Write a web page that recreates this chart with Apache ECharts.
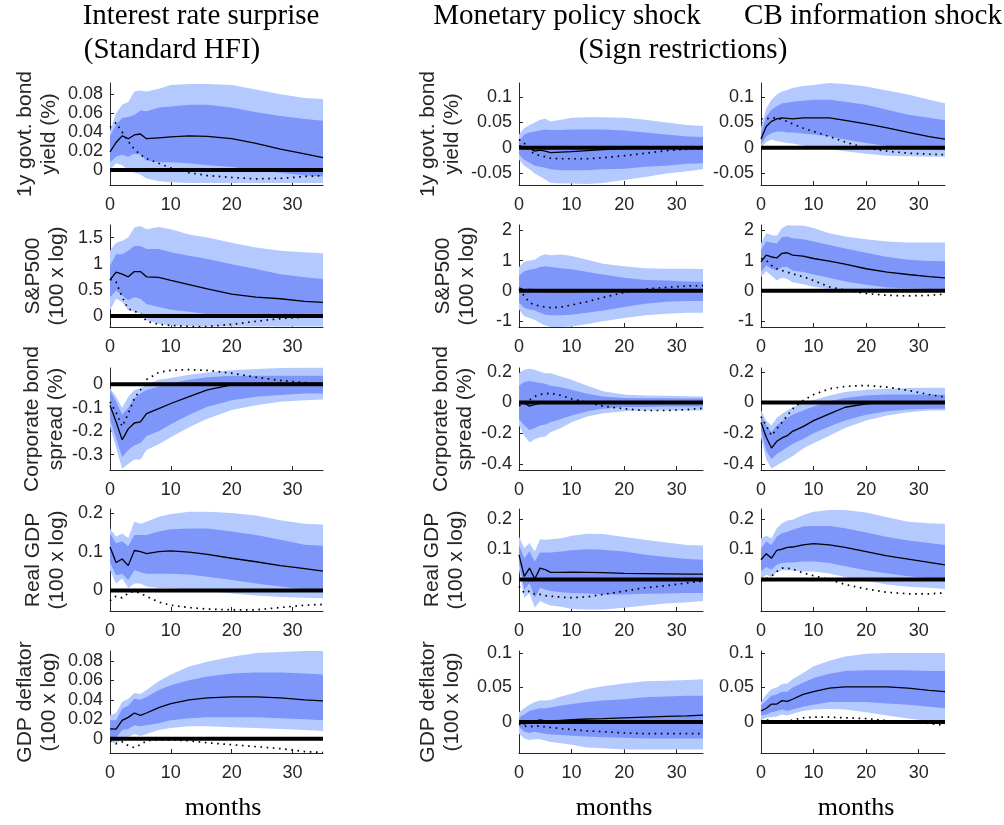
<!DOCTYPE html>
<html><head><meta charset="utf-8">
<script src="https://cdn.jsdelivr.net/npm/echarts@6/dist/echarts.min.js"></script>
<style>html,body{margin:0;padding:0;background:#fff}#c{width:1004px;height:825px}</style>
</head><body><div id="c"></div>
<script>
// ---- months at which values were read ----
const months = [0,1,2,3,4,5,6,8,10,13,16,20,24,28,32,35];
const xTicks = [0,10,20,30];

// ---- titles / labels ----
const colTitles = ['Interest rate surprise','Monetary policy shock','CB information shock'];
const subTitles = ['(Standard HFI)','(Sign restrictions)'];
const rowLabels = ['1y govt. bond\nyield (%)','S&P500\n(100 x log)','Corporate bond\nspread (%)','Real GDP\n(100 x log)','GDP deflator\n(100 x log)'];
const xLabel = 'months';

// ---- y ranges and ticks (col 1 ; cols 2-3 shared) ----
const yRangeC1 = [[-0.016,0.092],[-0.21,1.74],[-0.365,0.069],[-0.053,0.21],[-0.0145,0.09]];
const yRangeC23 = [[-0.074,0.128],[-1.2,2.18],[-0.44,0.225],[-0.104,0.234],[-0.045,0.103]];
const yTicksC1 = [[0,0.02,0.04,0.06,0.08],[0,0.5,1,1.5],[-0.3,-0.2,-0.1,0],[0,0.1,0.2],[0,0.02,0.04,0.06,0.08]];
const yTicksC23 = [[-0.05,0,0.05,0.1],[-1,0,1,2],[-0.4,-0.2,0,0.2],[0,0.1,0.2],[0,0.05,0.1]];

// ===== Row 1: 1y govt bond yield =====
const yield_irs_mid = [0.019,0.029,0.036,0.033,0.037,0.038,0.033,0.034,0.035,0.036,0.0355,0.033,0.028,0.022,0.017,0.013];
const yield_irs_dot = [0.045,0.05,0.04,0.03,0.022,0.016,0.012,0.007,0.002,-0.003,-0.006,-0.008,-0.0095,-0.009,-0.007,-0.006];
const yield_irs_inHi = [0.036,0.048,0.055,0.056,0.058,0.063,0.062,0.066,0.067,0.069,0.069,0.066,0.061,0.057,0.054,0.052];
const yield_irs_inLo = [0.008,0.014,0.016,0.014,0.017,0.016,0.01,0.008,0.008,0.007,0.005,0.003,0.0,-0.003,-0.006,-0.007];
const yield_irs_outHi = [0.041,0.06,0.069,0.072,0.083,0.084,0.083,0.086,0.09,0.091,0.091,0.09,0.085,0.08,0.076,0.075];
const yield_irs_outLo = [0.0,0.007,0.005,0.0,-0.003,-0.005,-0.009,-0.012,-0.013,-0.014,-0.014,-0.014,-0.014,-0.014,-0.014,-0.014];

const yield_mp_mid = [0.004,0.001,-0.001,-0.007,-0.005,-0.007,-0.01,-0.009,-0.008,-0.006,-0.004,-0.002,-0.0015,-0.001,-0.001,-0.001];
const yield_mp_dot = [0.016,0.009,-0.007,-0.012,-0.016,-0.018,-0.021,-0.022,-0.022,-0.022,-0.02,-0.016,-0.011,-0.006,-0.003,-0.002];
const yield_mp_inHi = [0.0125,0.026,0.03,0.032,0.034,0.036,0.035,0.035,0.036,0.036,0.036,0.034,0.03,0.026,0.022,0.021];
const yield_mp_inLo = [-0.014,-0.024,-0.03,-0.036,-0.038,-0.04,-0.043,-0.045,-0.045,-0.045,-0.043,-0.042,-0.038,-0.036,-0.032,-0.031];
const yield_mp_outHi = [0.026,0.039,0.045,0.05,0.055,0.057,0.052,0.055,0.059,0.06,0.06,0.059,0.055,0.05,0.045,0.043];
const yield_mp_outLo = [-0.024,-0.036,-0.043,-0.051,-0.057,-0.063,-0.07,-0.071,-0.071,-0.072,-0.07,-0.064,-0.058,-0.051,-0.047,-0.043];

const yield_cbi_mid = [0.017,0.042,0.052,0.057,0.059,0.058,0.057,0.059,0.059,0.059,0.054,0.047,0.039,0.03,0.022,0.017];
const yield_cbi_dot = [0.057,0.057,0.059,0.059,0.055,0.052,0.047,0.039,0.032,0.022,0.011,-0.001,-0.007,-0.011,-0.013,-0.014];
const yield_cbi_inHi = [0.029,0.062,0.075,0.082,0.088,0.089,0.091,0.093,0.095,0.095,0.091,0.085,0.075,0.065,0.059,0.054];
const yield_cbi_inLo = [0.006,0.022,0.029,0.032,0.032,0.03,0.03,0.028,0.026,0.022,0.016,0.009,0.003,-0.001,-0.004,-0.005];
const yield_cbi_outHi = [0.039,0.078,0.095,0.105,0.111,0.114,0.118,0.122,0.124,0.128,0.126,0.121,0.113,0.105,0.095,0.088];
const yield_cbi_outLo = [0.0,0.011,0.016,0.0125,0.011,0.009,0.008,0.004,0.001,-0.003,-0.007,-0.012,-0.016,-0.017,-0.018,-0.018];

// ===== Row 2: S&P500 =====
const sp_irs_mid = [0.69,0.84,0.8,0.75,0.85,0.85,0.75,0.74,0.68,0.6,0.52,0.42,0.36,0.33,0.28,0.26];
const sp_irs_dot = [0.7,0.65,0.36,0.14,0.09,0.05,-0.1,-0.16,-0.18,-0.2,-0.2,-0.16,-0.1,-0.05,-0.02,0.0];
const sp_irs_inHi = [0.96,1.18,1.18,1.25,1.34,1.34,1.28,1.28,1.22,1.15,1.09,0.99,0.9,0.8,0.74,0.71];
const sp_irs_inLo = [0.36,0.49,0.39,0.3,0.36,0.33,0.23,0.17,0.12,0.08,0.04,0.01,0.0,-0.02,-0.02,-0.03];
const sp_irs_outHi = [1.25,1.4,1.44,1.5,1.69,1.72,1.66,1.7,1.66,1.56,1.5,1.4,1.31,1.25,1.22,1.2];
const sp_irs_outLo = [0.11,0.33,0.27,0.11,0.08,0.05,-0.08,-0.15,-0.18,-0.19,-0.2,-0.2,-0.2,-0.2,-0.2,-0.2];

const sp_mp_mid = [0.1,0.02,0.05,0.03,0.0,-0.02,-0.03,-0.03,-0.03,-0.02,-0.01,0.0,0.01,0.01,0.01,0.01];
const sp_mp_dot = [0.05,-0.17,-0.39,-0.47,-0.5,-0.54,-0.56,-0.54,-0.47,-0.36,-0.22,-0.06,0.06,0.11,0.16,0.17];
const sp_mp_inHi = [0.5,0.65,0.7,0.73,0.79,0.81,0.79,0.75,0.71,0.62,0.54,0.43,0.36,0.34,0.31,0.3];
const sp_mp_inLo = [-0.4,-0.56,-0.62,-0.65,-0.73,-0.79,-0.81,-0.81,-0.79,-0.73,-0.65,-0.54,-0.43,-0.36,-0.34,-0.34];
const sp_mp_outHi = [0.79,0.96,1.0,1.03,1.15,1.21,1.18,1.2,1.15,1.03,0.9,0.81,0.75,0.73,0.73,0.72];
const sp_mp_outLo = [-0.62,-0.84,-0.9,-0.96,-1.07,-1.15,-1.2,-1.2,-1.18,-1.1,-1.01,-0.9,-0.81,-0.76,-0.73,-0.73];

const sp_cbi_mid = [0.96,1.18,1.12,1.09,1.24,1.26,1.18,1.15,1.07,0.98,0.88,0.73,0.62,0.54,0.47,0.43];
const sp_cbi_dot = [1.07,1.01,0.84,0.73,0.67,0.62,0.56,0.47,0.34,0.13,0.02,-0.09,-0.15,-0.17,-0.15,-0.11];
const sp_cbi_inHi = [1.35,1.63,1.6,1.57,1.78,1.8,1.74,1.71,1.63,1.52,1.4,1.26,1.12,1.03,0.99,0.98];
const sp_cbi_inLo = [0.62,0.84,0.73,0.67,0.79,0.79,0.67,0.62,0.54,0.43,0.31,0.2,0.11,0.08,0.06,0.06];
const sp_cbi_outHi = [1.57,1.91,1.85,1.82,2.08,2.17,2.16,2.16,2.08,1.91,1.8,1.71,1.63,1.6,1.6,1.6];
const sp_cbi_outLo = [0.45,0.65,0.5,0.34,0.43,0.39,0.28,0.22,0.13,0.06,0.0,-0.02,-0.02,-0.02,-0.02,-0.02];

// ===== Row 3: Corporate bond spread =====
const cs_irs_mid = [-0.09,-0.16,-0.237,-0.19,-0.165,-0.16,-0.125,-0.104,-0.082,-0.053,-0.024,-0.003,0.004,0.004,0.004,0.004];
const cs_irs_dot = [-0.075,-0.12,-0.18,-0.125,-0.06,-0.025,0.02,0.05,0.059,0.062,0.059,0.047,0.03,0.016,0.007,0.004];
const cs_irs_inHi = [-0.025,-0.075,-0.13,-0.1,-0.06,-0.04,-0.025,-0.01,0.004,0.019,0.03,0.036,0.036,0.036,0.036,0.036];
const cs_irs_inLo = [-0.15,-0.23,-0.31,-0.28,-0.26,-0.25,-0.22,-0.2,-0.17,-0.13,-0.096,-0.068,-0.053,-0.046,-0.04,-0.04];
const cs_irs_outHi = [-0.017,-0.053,-0.1,-0.053,-0.025,-0.017,-0.003,0.019,0.026,0.04,0.05,0.059,0.065,0.069,0.07,0.07];
const cs_irs_outLo = [-0.18,-0.27,-0.36,-0.34,-0.32,-0.32,-0.28,-0.255,-0.226,-0.183,-0.147,-0.11,-0.089,-0.075,-0.068,-0.065];

const cs_mp_mid = [0.0,-0.005,-0.024,-0.013,-0.004,-0.002,0.0,0.0,0.0,0.0,0.0,-0.002,-0.002,-0.002,-0.002,-0.002];
const cs_mp_dot = [-0.02,-0.009,0.017,0.04,0.052,0.057,0.061,0.046,0.024,0.002,-0.024,-0.041,-0.052,-0.052,-0.046,-0.037];
const cs_mp_inHi = [0.11,0.133,0.14,0.133,0.127,0.122,0.11,0.1,0.083,0.057,0.039,0.03,0.028,0.027,0.026,0.026];
const cs_mp_inLo = [-0.107,-0.15,-0.18,-0.166,-0.15,-0.144,-0.129,-0.107,-0.085,-0.057,-0.041,-0.03,-0.029,-0.026,-0.026,-0.026];
const cs_mp_outHi = [0.19,0.214,0.22,0.214,0.2,0.19,0.19,0.17,0.148,0.11,0.074,0.052,0.046,0.044,0.041,0.04];
const cs_mp_outLo = [-0.15,-0.216,-0.26,-0.24,-0.227,-0.222,-0.194,-0.166,-0.129,-0.092,-0.07,-0.057,-0.052,-0.052,-0.052,-0.052];

const cs_cbi_mid = [-0.13,-0.227,-0.297,-0.253,-0.231,-0.216,-0.188,-0.157,-0.118,-0.074,-0.031,-0.009,0.0,0.004,0.004,0.004];
const cs_cbi_dot = [-0.092,-0.15,-0.216,-0.172,-0.129,-0.085,-0.041,0.013,0.052,0.089,0.105,0.111,0.1,0.079,0.052,0.035];
const cs_cbi_inHi = [-0.085,-0.15,-0.194,-0.15,-0.122,-0.1,-0.079,-0.052,-0.026,0.009,0.03,0.046,0.052,0.052,0.052,0.05];
const cs_cbi_inLo = [-0.183,-0.314,-0.37,-0.336,-0.314,-0.292,-0.27,-0.238,-0.2,-0.157,-0.118,-0.079,-0.057,-0.046,-0.041,-0.041];
const cs_cbi_outHi = [-0.052,-0.118,-0.15,-0.1,-0.074,-0.052,-0.031,-0.004,0.017,0.046,0.068,0.083,0.089,0.094,0.096,0.096];
const cs_cbi_outLo = [-0.227,-0.37,-0.43,-0.41,-0.39,-0.37,-0.35,-0.3,-0.266,-0.216,-0.166,-0.118,-0.085,-0.063,-0.052,-0.052];

// ===== Row 4: Real GDP =====
const gdp_irs_mid = [0.112,0.072,0.081,0.064,0.103,0.1,0.095,0.1,0.102,0.099,0.093,0.083,0.074,0.064,0.056,0.05];
const gdp_irs_dot = [-0.027,-0.015,-0.019,-0.007,-0.002,-0.007,-0.015,-0.03,-0.038,-0.044,-0.048,-0.05,-0.05,-0.044,-0.038,-0.036];
const gdp_irs_inHi = [0.147,0.122,0.127,0.114,0.143,0.143,0.143,0.152,0.158,0.16,0.16,0.152,0.143,0.131,0.118,0.115];
const gdp_irs_inLo = [0.072,0.039,0.043,0.027,0.052,0.047,0.043,0.043,0.043,0.041,0.035,0.027,0.018,0.01,0.003,0.0];
const gdp_irs_outHi = [0.16,0.139,0.147,0.135,0.177,0.172,0.177,0.19,0.197,0.203,0.203,0.2,0.193,0.181,0.172,0.17];
const gdp_irs_outLo = [0.052,0.018,0.031,0.006,0.018,0.018,0.01,0.006,0.006,0.002,-0.002,-0.008,-0.013,-0.017,-0.019,-0.02];

const gdp_mp_mid = [0.082,0.011,0.038,0.002,0.038,0.033,0.024,0.024,0.025,0.024,0.023,0.021,0.02,0.019,0.018,0.018];
const gdp_mp_dot = [-0.022,-0.044,-0.038,-0.049,-0.049,-0.053,-0.055,-0.058,-0.06,-0.057,-0.049,-0.038,-0.027,-0.02,-0.011,-0.005];
const gdp_mp_inHi = [0.115,0.071,0.093,0.06,0.09,0.09,0.09,0.093,0.097,0.101,0.099,0.093,0.082,0.075,0.068,0.066];
const gdp_mp_inLo = [0.055,-0.033,-0.011,-0.06,-0.027,-0.033,-0.038,-0.042,-0.044,-0.046,-0.049,-0.049,-0.047,-0.046,-0.044,-0.044];
const gdp_mp_outHi = [0.143,0.104,0.121,0.093,0.134,0.132,0.134,0.137,0.145,0.152,0.151,0.141,0.132,0.123,0.115,0.113];
const gdp_mp_outLo = [0.033,-0.06,-0.044,-0.093,-0.071,-0.079,-0.086,-0.09,-0.097,-0.099,-0.099,-0.093,-0.086,-0.079,-0.075,-0.071];

const gdp_cbi_mid = [0.066,0.086,0.071,0.097,0.101,0.107,0.108,0.115,0.119,0.115,0.107,0.093,0.079,0.068,0.057,0.049];
const gdp_cbi_dot = [-0.005,0.002,0.011,0.027,0.038,0.038,0.035,0.022,0.013,0.0,-0.016,-0.031,-0.042,-0.047,-0.047,-0.044];
const gdp_cbi_inHi = [0.104,0.126,0.115,0.143,0.154,0.159,0.165,0.176,0.178,0.178,0.17,0.156,0.141,0.13,0.121,0.115];
const gdp_cbi_inLo = [0.027,0.042,0.033,0.049,0.055,0.057,0.057,0.06,0.06,0.055,0.044,0.031,0.02,0.011,0.005,0.002];
const gdp_cbi_outHi = [0.137,0.145,0.137,0.17,0.187,0.196,0.198,0.214,0.225,0.231,0.231,0.222,0.207,0.192,0.187,0.185];
const gdp_cbi_outLo = [0.0,0.016,0.009,0.024,0.031,0.031,0.031,0.027,0.027,0.02,0.009,-0.005,-0.016,-0.024,-0.027,-0.031];

// ===== Row 5: GDP deflator =====
const defl_irs_mid = [0.0103,0.01,0.019,0.022,0.0265,0.024,0.0265,0.032,0.036,0.04,0.042,0.043,0.043,0.042,0.04,0.039];
const defl_irs_dot = [-0.002,-0.005,-0.003,-0.007,-0.009,-0.006,-0.002,-0.001,-0.001,-0.002,-0.004,-0.006,-0.008,-0.01,-0.013,-0.014];
const defl_irs_inHi = [0.019,0.019,0.031,0.034,0.041,0.04,0.043,0.05,0.055,0.06,0.064,0.067,0.068,0.068,0.067,0.066];
const defl_irs_inLo = [0.002,0.001,0.009,0.01,0.014,0.013,0.014,0.016,0.019,0.021,0.022,0.022,0.022,0.021,0.02,0.019];
const defl_irs_outHi = [0.024,0.0265,0.038,0.041,0.047,0.046,0.05,0.059,0.066,0.074,0.079,0.084,0.088,0.089,0.09,0.09];
const defl_irs_outLo = [-0.003,-0.005,0.0,0.002,0.005,0.003,0.005,0.009,0.011,0.013,0.013,0.012,0.011,0.01,0.009,0.008];

const defl_mp_mid = [0.0,-0.003,0.0,0.001,0.003,0.0015,0.0015,0.0024,0.0033,0.0043,0.005,0.006,0.007,0.008,0.009,0.01];
const defl_mp_dot = [-0.003,-0.006,-0.007,-0.006,-0.006,-0.007,-0.008,-0.0095,-0.011,-0.013,-0.014,-0.016,-0.017,-0.017,-0.017,-0.017];
const defl_mp_inHi = [0.007,0.011,0.016,0.018,0.02,0.02,0.021,0.024,0.026,0.029,0.031,0.033,0.036,0.037,0.038,0.038];
const defl_mp_inLo = [-0.007,-0.014,-0.016,-0.014,-0.016,-0.017,-0.018,-0.019,-0.02,-0.021,-0.022,-0.023,-0.024,-0.024,-0.024,-0.024];
const defl_mp_outHi = [0.014,0.02,0.025,0.029,0.031,0.031,0.032,0.037,0.041,0.048,0.052,0.056,0.059,0.06,0.061,0.062];
const defl_mp_outLo = [-0.017,-0.024,-0.026,-0.025,-0.025,-0.027,-0.029,-0.031,-0.033,-0.037,-0.038,-0.04,-0.04,-0.04,-0.04,-0.04];

const defl_cbi_mid = [0.016,0.02,0.026,0.026,0.031,0.03,0.033,0.04,0.044,0.049,0.051,0.051,0.051,0.049,0.046,0.044];
const defl_cbi_dot = [0.0,0.003,0.002,0.0,-0.002,0.0,0.003,0.006,0.007,0.007,0.006,0.005,0.002,0.0,-0.002,-0.005];
const defl_cbi_inHi = [0.024,0.031,0.038,0.04,0.044,0.044,0.05,0.057,0.064,0.07,0.074,0.075,0.075,0.075,0.074,0.074];
const defl_cbi_inLo = [0.0095,0.011,0.014,0.016,0.018,0.016,0.018,0.022,0.025,0.029,0.029,0.029,0.027,0.025,0.022,0.02];
const defl_cbi_outHi = [0.029,0.04,0.048,0.05,0.055,0.056,0.062,0.071,0.081,0.089,0.095,0.099,0.1,0.1,0.1,0.1];
const defl_cbi_outLo = [0.003,0.006,0.007,0.008,0.011,0.0095,0.012,0.016,0.018,0.019,0.018,0.014,0.0095,0.005,0.0014,0.0];

// ---- assemble panels (row-major) ----
const panels = [
  [ [yield_irs_mid,yield_irs_dot,yield_irs_inLo,yield_irs_inHi,yield_irs_outLo,yield_irs_outHi],
    [yield_mp_mid,yield_mp_dot,yield_mp_inLo,yield_mp_inHi,yield_mp_outLo,yield_mp_outHi],
    [yield_cbi_mid,yield_cbi_dot,yield_cbi_inLo,yield_cbi_inHi,yield_cbi_outLo,yield_cbi_outHi] ],
  [ [sp_irs_mid,sp_irs_dot,sp_irs_inLo,sp_irs_inHi,sp_irs_outLo,sp_irs_outHi],
    [sp_mp_mid,sp_mp_dot,sp_mp_inLo,sp_mp_inHi,sp_mp_outLo,sp_mp_outHi],
    [sp_cbi_mid,sp_cbi_dot,sp_cbi_inLo,sp_cbi_inHi,sp_cbi_outLo,sp_cbi_outHi] ],
  [ [cs_irs_mid,cs_irs_dot,cs_irs_inLo,cs_irs_inHi,cs_irs_outLo,cs_irs_outHi],
    [cs_mp_mid,cs_mp_dot,cs_mp_inLo,cs_mp_inHi,cs_mp_outLo,cs_mp_outHi],
    [cs_cbi_mid,cs_cbi_dot,cs_cbi_inLo,cs_cbi_inHi,cs_cbi_outLo,cs_cbi_outHi] ],
  [ [gdp_irs_mid,gdp_irs_dot,gdp_irs_inLo,gdp_irs_inHi,gdp_irs_outLo,gdp_irs_outHi],
    [gdp_mp_mid,gdp_mp_dot,gdp_mp_inLo,gdp_mp_inHi,gdp_mp_outLo,gdp_mp_outHi],
    [gdp_cbi_mid,gdp_cbi_dot,gdp_cbi_inLo,gdp_cbi_inHi,gdp_cbi_outLo,gdp_cbi_outHi] ],
  [ [defl_irs_mid,defl_irs_dot,defl_irs_inLo,defl_irs_inHi,defl_irs_outLo,defl_irs_outHi],
    [defl_mp_mid,defl_mp_dot,defl_mp_inLo,defl_mp_inHi,defl_mp_outLo,defl_mp_outHi],
    [defl_cbi_mid,defl_cbi_dot,defl_cbi_inLo,defl_cbi_inHi,defl_cbi_outLo,defl_cbi_outHi] ]
];

// ---- layout ----
const colLeft = [110, 519, 761];
const colWidth = [213, 184, 184];
const rowTop = [83, 225, 368, 509, 651];
const rowHeight = 102;
const nameGapC1 = [49, 41, 40, 41, 49];
const nameGapC2 = [55, 40, 41, 51, 55];
const LIGHT = 'rgb(180,202,255)';
const DARK = 'rgb(126,150,250)';
const AX = '#262626';
const SANS = '"Liberation Sans", Arial, sans-serif';
const SERIF = '"Liberation Serif", "Times New Roman", serif';

const grids = [], xAxes = [], yAxes = [], series = [];

function band(idx, lo, hi, color, z) {
  return {
    type: 'custom', xAxisIndex: idx, yAxisIndex: idx, silent: true, animation: false, z: z,
    data: [[months[0], lo[0]]],
    renderItem: function (params, api) {
      const pts = [];
      for (let i = 0; i < months.length; i++) pts.push(api.coord([months[i], hi[i]]));
      for (let i = months.length - 1; i >= 0; i--) pts.push(api.coord([months[i], lo[i]]));
      return { type: 'polygon', shape: { points: pts }, style: { fill: color, stroke: null } };
    }
  };
}
function pairs(arr) { return months.map((m, i) => [m, arr[i]]); }

let idx = 0;
for (let r = 0; r < 5; r++) {
  for (let c = 0; c < 3; c++) {
    grids.push({ left: colLeft[c], top: rowTop[r], width: colWidth[c], height: rowHeight, containLabel: false });
    xAxes.push({
      type: 'value', gridIndex: idx, min: 0, max: 35,
      axisLine: { show: true, onZero: false, lineStyle: { color: AX, width: 1 } },
      axisTick: { show: true, inside: true, length: 4, customValues: xTicks, lineStyle: { color: AX } },
      axisLabel: { customValues: xTicks, fontSize: 18, color: AX, fontFamily: SANS, margin: 11 },
      splitLine: { show: false }
    });
    const rng = c === 0 ? yRangeC1[r] : yRangeC23[r];
    const tks = c === 0 ? yTicksC1[r] : yTicksC23[r];
    const ya = {
      type: 'value', gridIndex: idx, min: rng[0], max: rng[1],
      axisLine: { show: true, onZero: false, lineStyle: { color: AX, width: 1 } },
      axisTick: { show: true, inside: true, length: 4, customValues: tks, lineStyle: { color: AX } },
      axisLabel: { customValues: tks, fontSize: 18, color: AX, fontFamily: SANS, margin: 7, formatter: v => String(v) },
      splitLine: { show: false }
    };
    if (c < 2) {
      ya.name = rowLabels[r];
      ya.nameLocation = 'middle';
      ya.nameRotate = 90;
      ya.nameGap = c === 0 ? nameGapC1[r] : nameGapC2[r];
      ya.nameTextStyle = { fontFamily: SANS, fontSize: 21, color: AX, lineHeight: 24 };
    }
    yAxes.push(ya);
    const p = panels[r][c];
    series.push(band(idx, p[4], p[5], LIGHT, 1));
    series.push(band(idx, p[2], p[3], DARK, 2));
    series.push({ type: 'line', xAxisIndex: idx, yAxisIndex: idx, data: [[0, 0], [35, 0]], showSymbol: false, silent: true, z: 3,
      lineStyle: { color: '#000', width: 4 } });
    series.push({ type: 'line', xAxisIndex: idx, yAxisIndex: idx, data: pairs(p[0]), showSymbol: false, silent: true, z: 4,
      lineStyle: { color: '#000', width: 1.3 } });
    series.push({ type: 'line', xAxisIndex: idx, yAxisIndex: idx, data: pairs(p[1]), showSymbol: false, silent: true, z: 5,
      lineStyle: { color: '#000', width: 1.7, type: [1.6, 4.6], cap: 'butt' } });
    idx++;
  }
}

function txt(s, x, y, size) {
  return { type: 'text', x: x, y: y, silent: true,
    style: { text: s, font: size + 'px ' + SERIF, fill: '#000', textAlign: 'center', textVerticalAlign: 'middle' } };
}
const graphics = [
  txt(colTitles[0], 201, 16, 29),
  txt(subTitles[0], 172, 50, 29),
  txt(colTitles[1], 567, 16, 29),
  txt(subTitles[1], 683, 50, 29),
  txt(colTitles[2], 873, 16, 29),
  txt(xLabel, 223, 808, 26),
  txt(xLabel, 614, 808, 26),
  txt(xLabel, 856, 808, 26)
];

const chart = echarts.init(document.getElementById('c'), null, { renderer: 'canvas' });
chart.setOption({
  animation: false,
  backgroundColor: '#fff',
  grid: grids, xAxis: xAxes, yAxis: yAxes, series: series,
  graphic: graphics
});
</script></body></html>
